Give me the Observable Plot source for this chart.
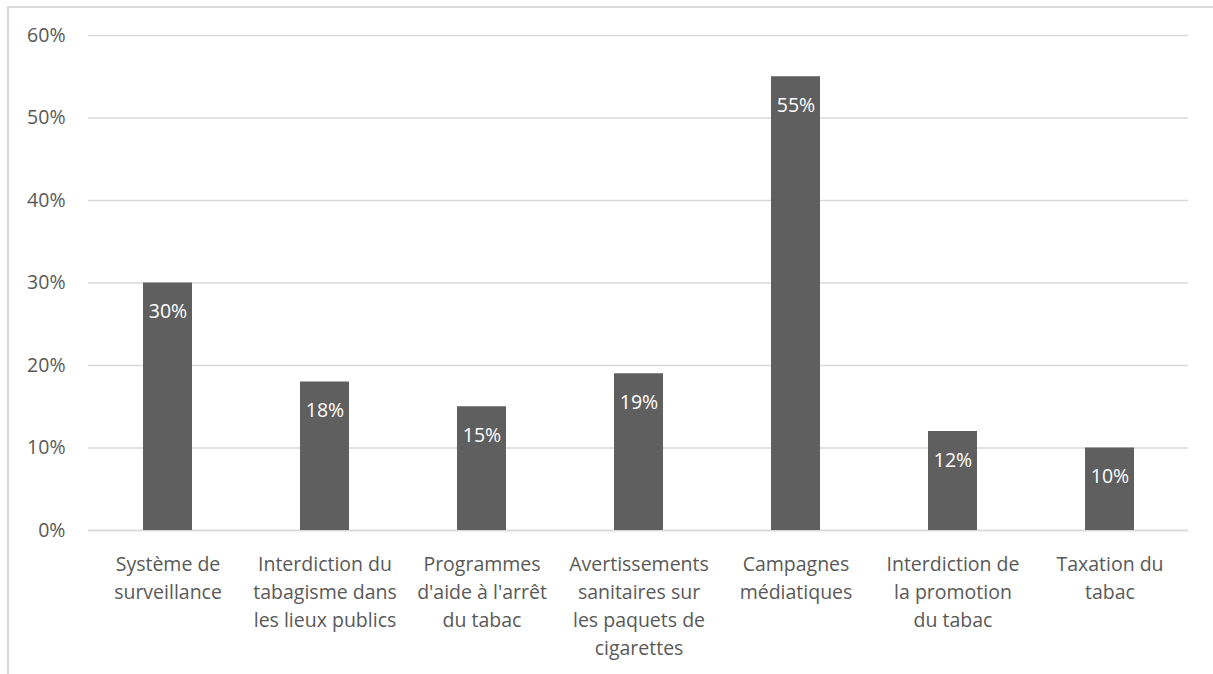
<!DOCTYPE html>
<html><head><meta charset="utf-8">
<script src="https://cdn.jsdelivr.net/npm/d3@7"></script>
<script src="https://cdn.jsdelivr.net/npm/@observablehq/plot@0.6"></script>
<style>
body{margin:0;background:#fff;}
#wrap{position:relative;width:1213px;height:674px;overflow:hidden;}
#frame{position:absolute;left:7px;top:6px;width:1300px;height:800px;border-top:2px solid #d9d9d9;border-left:2px solid #d9d9d9;box-sizing:border-box;}
#chart{position:absolute;left:0;top:0;}
</style></head>
<body><div id="wrap"><div id="frame"></div><div id="chart"></div></div>
<script>
const categories = [
  "Système de\nsurveillance",
  "Interdiction du\ntabagisme dans\nles lieux publics",
  "Programmes\nd'aide à l'arrêt\ndu tabac",
  "Avertissements\nsanitaires sur\nles paquets de\ncigarettes",
  "Campagnes\nmédiatiques",
  "Interdiction de\nla promotion\ndu tabac",
  "Taxation du\ntabac"
];
const values = [30, 18, 15, 19, 55, 12, 10];
const yTicks = [0, 10, 20, 30, 40, 50, 60];

const data = categories.map((c, i) => ({cat: c, v: values[i]}));
const font = "'Open Sans', sans-serif";
const fs = 19.5;
const chart = Plot.plot({
  width: 1213, height: 674,
  marginLeft: 88, marginRight: 25, marginTop: 35, marginBottom: 144,
  style: {fontFamily: font, fontSize: fs + "px", color: "#595959", background: "transparent"},
  x: {domain: categories, paddingInner: 0.69, paddingOuter: 0.345, label: null},
  y: {domain: [0, 60], label: null},
  marks: [
    Plot.gridY(yTicks, {stroke: "#d9d9d9", strokeOpacity: 1, strokeWidth: 1.5}),
    Plot.ruleY([0], {stroke: "#d9d9d9", strokeWidth: 1.5}),
    Plot.axisY({ticks: yTicks, tickSize: 0, tickPadding: 23, tickFormat: d => d + "%", fill: "#595959", fontSize: fs}),
    Plot.axisX({tickSize: 0, tickPadding: 20, lineAnchor: "top", lineHeight: 1.45, fill: "#595959", fontSize: fs}),
    Plot.barY(data, {x: "cat", y: "v", fill: "#5f5f5f"}),
    Plot.text(data, {x: "cat", y: "v", text: d => d.v + "%", fill: "white", dy: 29, fontSize: fs})
  ]
});
document.getElementById("chart").appendChild(chart);
</script></body></html>
